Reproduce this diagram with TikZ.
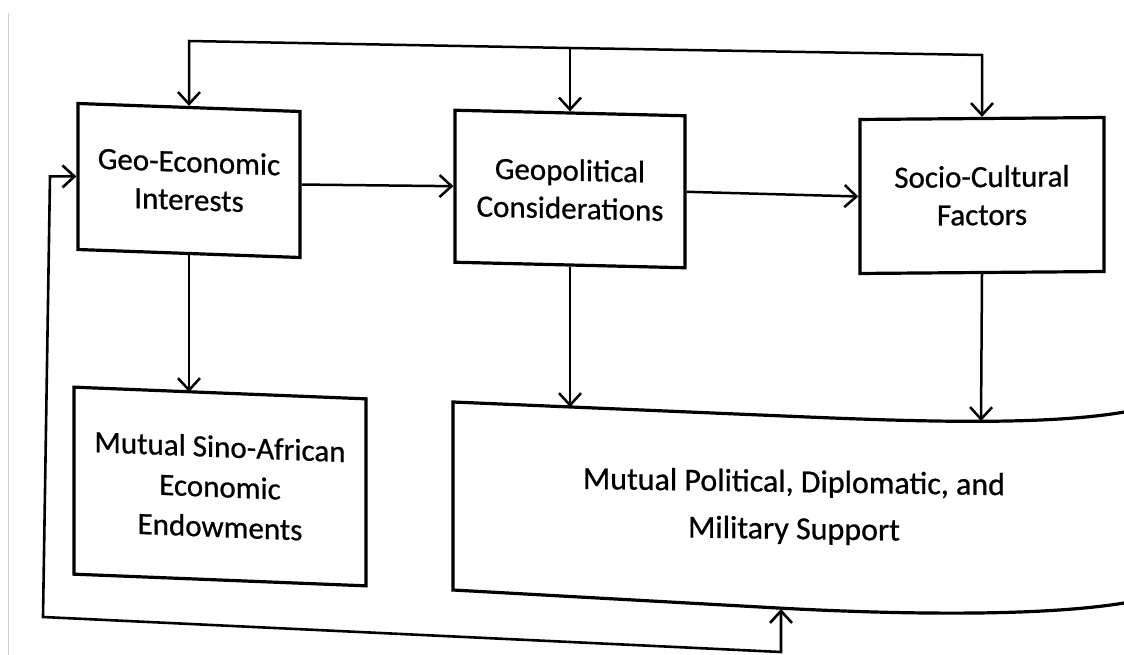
\documentclass[tikz,border=0pt]{standalone}
\usepackage{fontspec}
\setmainfont{Carlito}[FakeBold=0.7]
\usetikzlibrary{arrows.meta,calc}
\begin{document}
\begin{tikzpicture}[x=1pt,y=-1pt,
  box/.style={draw, line width=3.2pt, rectangle, inner sep=0pt, align=center,
    font=\fontsize{31}{38}\selectfont},
  arr/.style={line width=2.5pt, -{Straight Barb[length=12pt,width=22pt]}},
  arrboth/.style={line width=2.6pt, {Straight Barb[length=12pt,width=22pt]}-{Straight Barb[length=12pt,width=22pt]}},
  scanline/.style={draw=gray!35, line width=1pt}
  ]
\useasboundingbox[fill=white] (0,0) rectangle (1124,655);
% faint scan edge
\draw[scanline] (8,13) -- (8,655);

% boxes
\node[box, minimum width=222pt, minimum height=146pt, yslant=-0.036] (b1) at (189,180.5) {Geo-Economic\\Interests};
\node[box, minimum width=230pt, minimum height=152pt, yslant=-0.024] (b2) at (570,189) {Geopolitical\\Considerations};
\node[box, minimum width=244pt, minimum height=154pt, yslant=0.008] (b3) at (982,195.5) {Socio-Cultural\\Factors};
\node[box, minimum width=292pt, minimum height=187pt, yslant=-0.04,
  font=\fontsize{31}{40}\selectfont] (b4) at (220,486.5) {Mutual Sino-African\\Economic\\Endowments};

% large open box
\draw[line width=3.2pt] (1130,411) .. controls (1040,428) and (880,420) .. (760,415)
  -- (453,402) -- (453,590) -- (760,607) .. controls (880,614) and (1040,618) .. (1130,602);
\node[align=center, font=\fontsize{32}{47}\selectfont, yslant=-0.015, inner sep=0pt] (m) at (794,507)
  {Mutual Political, Diplomatic, and\\Military Support};

% named points
\coordinate (busA) at (189,41);
\coordinate (busB) at (570,48);
\coordinate (busC) at (982,55);
\coordinate (b4in) at (189,392);
\coordinate (mt1) at (570,407);
\coordinate (mt2) at (981,421);
\coordinate (mb) at (781,609);
\coordinate (fbA) at (781,652);
\coordinate (fbB) at (43,617);
\coordinate (fbX) at (50,0);

% connectors
\draw[arr] (busB) -- (busA) -- (b1.north);
\draw[arr] (busB) -- (busC) -- (b3.north);
\draw[arr] (busB) -- (b2.north);
\draw[arr] (b1.east) -- (b2.west);
\draw[arr] (b2.east) -- (b3.west);
\draw[arr] (b1.south) -- (b4in);
\draw[arr] (b2.south) -- (mt1);
\draw[arr] (b3.south) -- (mt2);
\draw[arrboth] (mb) -- (fbA) -- (fbB) -- (b1.west -| fbX) -- (b1.west);
\end{tikzpicture}
\end{document}
